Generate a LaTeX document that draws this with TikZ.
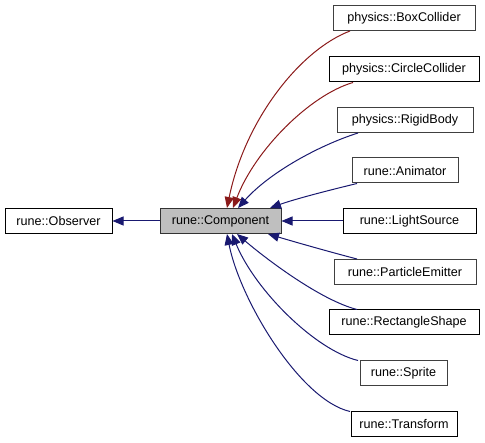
\documentclass[tikz,border=0pt]{standalone}
\usepackage{fontspec}
\setmainfont{Liberation Sans}
\usetikzlibrary{arrows.meta}
\definecolor{edgeblue}{HTML}{191970}
\definecolor{edgered}{HTML}{8B1A1A}
\begin{document}
\begin{tikzpicture}[x=1pt,y=-1pt,line width=1pt,
  cls/.style={draw=black,fill=white,minimum height=25pt,inner sep=0pt,font=\fontsize{12.6}{14}\selectfont},
  clsg/.style={cls,draw=black!75},
  pub/.style={edgeblue,-{Triangle[length=11pt,width=9pt]}},
  prot/.style={edgered,-{Triangle[length=11pt,width=9pt]}}]
\useasboundingbox (0,0) rectangle (485,443);
\node[cls,minimum width=107pt] (obs) at (58.5,221) {rune::Observer};
\node[cls,draw=black!80,fill=black!25,minimum width=121pt] (comp) at (220.5,221) {rune::Component};
\node[clsg,minimum width=142pt] (box) at (404,18) {physics::BoxCollider};
\node[cls,minimum width=150pt] (circ) at (404,69.5) {physics::CircleCollider};
\node[clsg,minimum width=136pt] (rigid) at (405,120) {physics::RigidBody};
\node[clsg,minimum width=106pt] (anim) at (405,170.5) {rune::Animator};
\node[cls,minimum width=133pt] (light) at (409.5,221) {rune::LightSource};
\node[clsg,minimum width=142pt] (part) at (405,272) {rune::ParticleEmitter};
\node[cls,minimum width=150pt] (rect) at (404,322.5) {rune::RectangleShape};
\node[clsg,minimum width=87pt] (sprite) at (403.5,373.5) {rune::Sprite};
\node[cls,minimum width=106pt] (trans) at (404,424.5) {rune::Transform};
\draw[pub] (comp) -- (obs);
\draw[prot] ([xshift=-54pt]box.south) .. controls (300,50) and (245,120) .. ([xshift=6.5pt]comp.north);
\draw[prot] ([xshift=-51pt]circ.south) .. controls (310,95) and (255,150) .. ([xshift=12.5pt]comp.north);
\draw[pub] ([xshift=-47pt]rigid.south) .. controls (320,145) and (270,172) .. ([xshift=17.5pt]comp.north);
\draw[pub] ([xshift=-48pt]anim.south) .. controls (330,190) and (295,199) .. ([xshift=49.5pt]comp.north);
\draw[pub] (light) -- (comp);
\draw[pub] ([xshift=-48pt]part.north) .. controls (330,252) and (295,242) .. ([xshift=47.5pt]comp.south);
\draw[pub] ([xshift=-47pt]rect.north) .. controls (320,300) and (265,258) .. ([xshift=16.5pt]comp.south);
\draw[pub] ([xshift=-45.5pt]sprite.north) .. controls (315,350) and (255,290) .. ([xshift=11.5pt]comp.south);
\draw[pub] ([xshift=-54pt]trans.north) .. controls (300,400) and (240,300) .. ([xshift=6.5pt]comp.south);
\end{tikzpicture}
\end{document}
